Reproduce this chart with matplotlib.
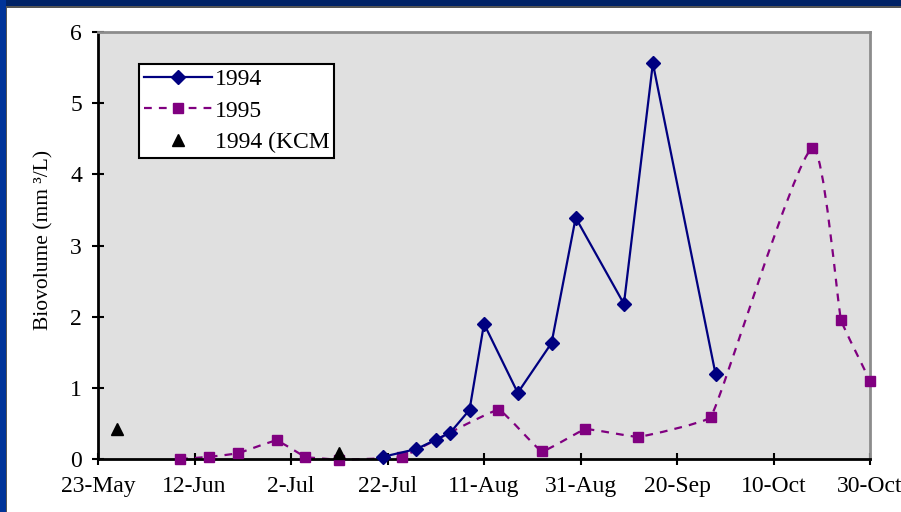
import datetime as dt
import numpy as np
import matplotlib
matplotlib.use("Agg")
import matplotlib.pyplot as plt
import matplotlib.dates as mdates
from matplotlib.path import Path
from matplotlib.patches import PathPatch, Rectangle
from matplotlib.lines import Line2D

# --- Data ---
YEAR = 2001  # both seasons share one day-of-year axis

dates_1994 = ["21-Jul", "28-Jul", "1-Aug", "4-Aug", "8-Aug", "11-Aug", "18-Aug",
              "25-Aug", "30-Aug", "9-Sep", "15-Sep", "28-Sep"]
vals_1994 = [0.03, 0.14, 0.27, 0.37, 0.69, 1.90, 0.93, 1.63, 3.39, 2.18, 5.56, 1.19]

dates_1995 = ["9-Jun", "15-Jun", "21-Jun", "29-Jun", "5-Jul", "12-Jul", "25-Jul",
              "14-Aug", "23-Aug", "1-Sep", "12-Sep", "27-Sep", "18-Oct", "24-Oct", "30-Oct"]
vals_1995 = [0.0, 0.03, 0.08, 0.26, 0.03, -0.01, 0.03, 0.69, 0.11, 0.42, 0.31, 0.59,
             4.37, 1.95, 1.10]

dates_kcm = ["27-May", "12-Jul"]
vals_kcm = [0.42, 0.09]

tick_labels = ["23-May", "12-Jun", "2-Jul", "22-Jul", "11-Aug", "31-Aug",
               "20-Sep", "10-Oct", "30-Oct"]
y_ticks = [0, 1, 2, 3, 4, 5, 6]

FS = 17


def to_num(labels):
    return [mdates.date2num(dt.datetime.strptime(f"{s}-{YEAR}", "%d-%b-%Y")) for s in labels]


def smooth_path(ax, xs, ys, k=0.08):
    """Bezier path through the points (spreadsheet-style smoothed line), built in pixels."""
    pts = ax.transData.transform(np.column_stack([xs, ys]))
    n = len(pts)
    tangents = []
    for i in range(n):
        d = pts[min(i + 1, n - 1)] - pts[max(i - 1, 0)]
        tangents.append(d / np.hypot(*d))
    verts = [pts[0]]
    codes = [Path.MOVETO]
    for i in range(n - 1):
        seg = np.hypot(*(pts[i + 1] - pts[i]))
        verts += [pts[i] + tangents[i] * seg * k,
                  pts[i + 1] - tangents[i + 1] * seg * k,
                  pts[i + 1]]
        codes += [Path.CURVE4] * 3
    data_verts = ax.transData.inverted().transform(np.array(verts))
    return Path(data_verts, codes)


plt.rcParams['font.family'] = ['Liberation Serif', 'DejaVu Serif']

NAVY = "#000080"
PURPLE = "#800080"

fig = plt.figure(figsize=(9.01, 5.12), dpi=100)
fig.patch.set_facecolor("white")

# slide-style frame: dark blue bands along top and left
fig.add_artist(Rectangle((0, 1 - 6 / 512), 1, 6 / 512, transform=fig.transFigure,
                         facecolor="#002266", edgecolor="none", zorder=-5))
fig.add_artist(Rectangle((0, 0), 6 / 901, 1, transform=fig.transFigure,
                         facecolor="#003399", edgecolor="none", zorder=-5))
fig.add_artist(Rectangle((6 / 901, 0), 1.5 / 901, 1 - 6 / 512, transform=fig.transFigure,
                         facecolor="#555555", edgecolor="none", zorder=-5))
fig.add_artist(Rectangle((6 / 901, 1 - 7.5 / 512), 1, 1.5 / 512, transform=fig.transFigure,
                         facecolor="#555555", edgecolor="none", zorder=-5))

ax = fig.add_axes([98 / 901, 53 / 512, 772 / 901, 427 / 512])
ax.set_facecolor("#E0E0E0")

ticks = to_num(tick_labels)
ax.set_xlim(ticks[0], ticks[-1])
ax.set_xticks(ticks)
ax.set_xticklabels(tick_labels)
ax.set_ylim(y_ticks[0], y_ticks[-1])
ax.set_yticks(y_ticks)

x94 = to_num(dates_1994)
x95 = to_num(dates_1995)
xk = to_num(dates_kcm)

ax.add_patch(PathPatch(smooth_path(ax, x95, vals_1995), fill=False, edgecolor=PURPLE,
                       linewidth=1.6, linestyle=(0, (3.5, 3.2)), zorder=2, clip_on=False))
ax.plot(x95, vals_1995, linestyle="none", marker="s", markersize=7.5,
        color=PURPLE, zorder=3, clip_on=False)
ax.plot(x94, vals_1994, "-", marker="D", markersize=7.5, color=NAVY,
        linewidth=1.6, zorder=4, clip_on=False)
ax.plot(xk, vals_kcm, linestyle="none", marker="^", markersize=9,
        color="black", zorder=5, clip_on=False)

for side in ("left", "bottom"):
    ax.spines[side].set_color("black")
    ax.spines[side].set_linewidth(2)
for side in ("top", "right"):
    ax.spines[side].set_color("#8C8C8C")
    ax.spines[side].set_linewidth(2)

ax.tick_params(axis="both", direction="inout", length=9, width=1.5,
               labelsize=FS, colors="black")
ax.tick_params(axis="x", pad=8)
ax.tick_params(axis="y", pad=7)
ax.set_ylabel("Biovolume (mm ³/L)", fontsize=15.5)
ax.yaxis.set_label_coords(-0.058, 0.513)

handles = [
    Line2D([], [], color=NAVY, linewidth=1.6, marker="D", markersize=7.5),
    Line2D([], [], color=PURPLE, linewidth=1.6, linestyle=(0, (3.5, 3.2)),
           marker="s", markersize=7.5),
    Line2D([], [], color="black", linestyle="none", marker="^", markersize=9),
]
leg = ax.legend(handles, ["1994", "1995", "1994 (KCM"], loc="upper left",
                bbox_to_anchor=(0.053, 0.925), fontsize=FS, frameon=True,
                fancybox=False, edgecolor="black", framealpha=1,
                handlelength=2.9, handletextpad=0.12, labelspacing=0.42,
                borderpad=0.2, borderaxespad=0)
leg.get_frame().set_linewidth(1.5)

fig.savefig("out.png", dpi=100)
